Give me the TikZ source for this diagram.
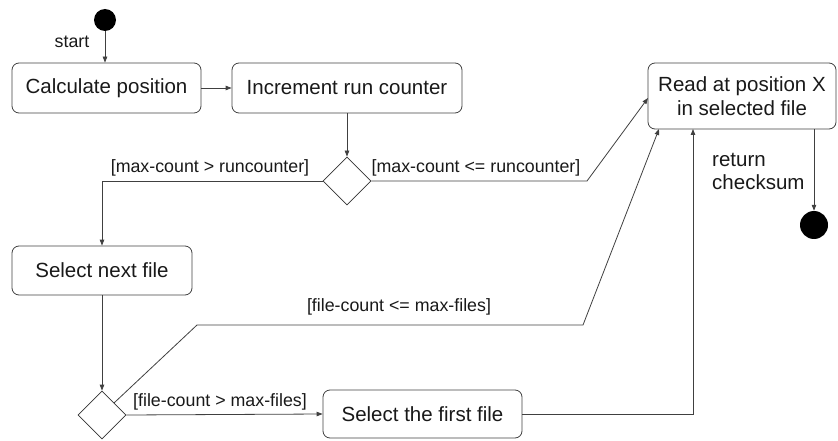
\documentclass[tikz,border=0pt]{standalone}
\usepackage{fontspec}
\setmainfont{Liberation Sans}
\usetikzlibrary{shapes.geometric,arrows.meta}
\begin{document}
\begin{tikzpicture}[x=1pt,y=-1pt,
  act/.style={draw=black!75,line width=0.8pt,rounded corners=7pt,inner sep=0pt,align=center,font=\fontsize{20.5}{23.5}\selectfont,text=black!90},
  dec/.style={draw=black!80,line width=0.8pt,shape=diamond,aspect=1,inner sep=0pt,minimum width=48pt,minimum height=48pt},
  dot/.style={circle,fill=black,inner sep=0pt},
  flow/.style={draw=black!75,line width=0.8pt,-{Triangle[length=6pt,width=4.5pt]}},
  lbl/.style={font=\fontsize{17.8}{21}\selectfont,text=black!90,inner sep=0pt},
  ]
\useasboundingbox (0,0) rectangle (838,441);
\node[dot,minimum size=22pt] (start) at (105,20) {};
\node[act,minimum width=189pt,minimum height=50pt] (calc) at (106.5,88) {Calculate position};
\node[act,minimum width=230pt,minimum height=50pt] (inc) at (347,88) {Increment run counter};
\node[act,minimum width=188pt,minimum height=66pt] (read) at (742,96) {Read at position X\\in selected file};
\node[act,minimum width=180pt,minimum height=49pt] (next) at (102,270.5) {Select next file};
\node[act,minimum width=199pt,minimum height=48pt] (first) at (422.5,414) {Select the first file};
\node[dec] (d1) at (347,181) {};
\node[dec] (d2) at (102,415) {};
\node[dot,minimum size=28pt] (end) at (814,225) {};
\coordinate (k1) at (587,181);
\coordinate (r1) at (648,98);
\coordinate (k2) at (197,325);
\coordinate (k3) at (583,325);
\coordinate (r2) at (659,129);
\coordinate (k4) at (693,414);
\coordinate (r3) at (693,129);

\node[lbl] (lstart) at (72,42) {start};
\node[lbl] (l1) at (210,168) {[max-count > runcounter]};
\node[lbl] (l2) at (476,168) {[max-count {<}= runcounter]};
\node[lbl] (l3) at (399,307) {[file-count {<}= max-files]};
\node[lbl] (l4) at (220,402) {[file-count > max-files]};
\node[lbl,align=left,anchor=west,font=\fontsize{20.5}{23}\selectfont] (l5) at (712,171) {return\\checksum};

\draw[flow] (start) -- (start |- calc.north);
\draw[flow] (calc) -- (inc);
\draw[flow] (inc.south) -- (d1.north);
\draw[flow] (d1.west) -- (next.north |- d1.west) -- (next.north);
\draw[flow] (d1.east) -- (k1) -- (r1);
\draw[flow] (next.south) -- (d2.north);
\draw[flow] (d2.north east) -- (k2) -- (k3) -- (r2);
\draw[flow] (d2.east) -- (first.west);
\draw[flow] (first.east) -- (k4) -- (r3);
\draw[flow] (end.north |- read.south) -- (end.north);
\end{tikzpicture}
\end{document}
